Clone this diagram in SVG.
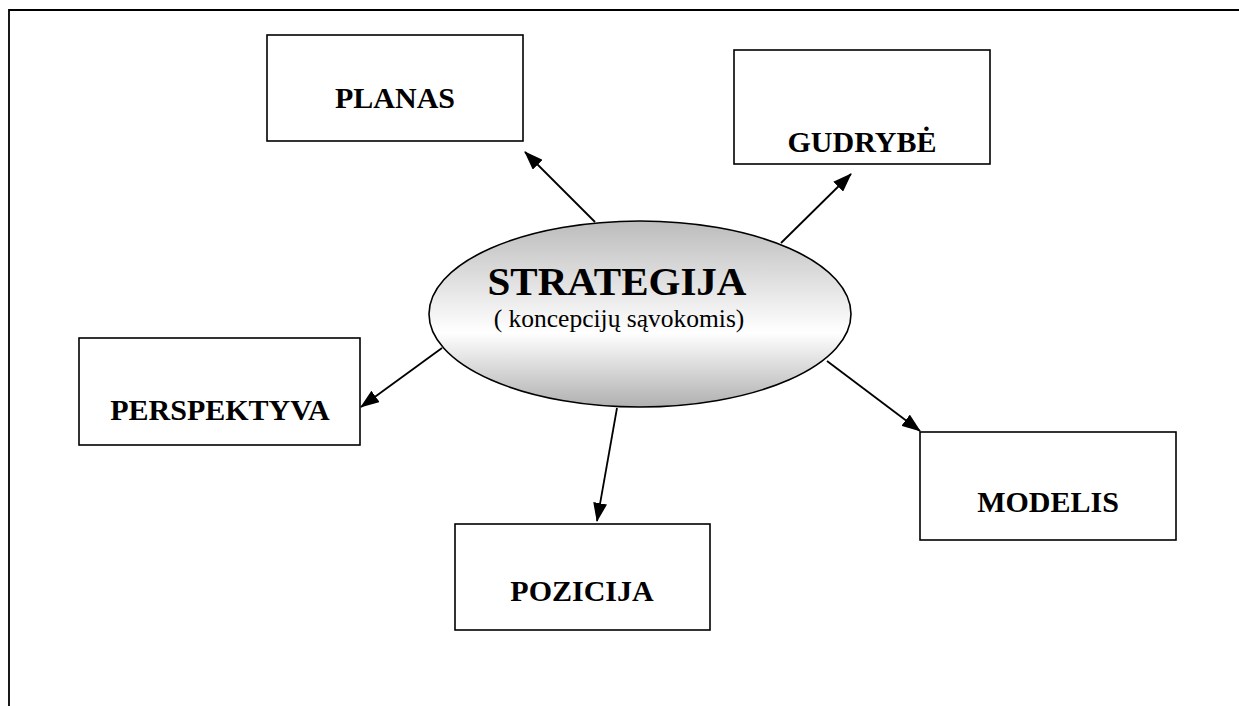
<svg xmlns="http://www.w3.org/2000/svg" width="1239" height="706" viewBox="0 0 1239 706">
<style>
.box{fill:#fff;stroke:#000;stroke-width:1.6}
.lbl{font-family:"Liberation Serif","Times New Roman",serif;font-weight:bold;font-size:30px;text-anchor:middle;fill:#000}
.con{stroke:#000;stroke-width:1.8;fill:none;marker-end:url(#ah)}
</style>
<defs>
<marker id="ah" viewBox="0 0 19 14" refX="18" refY="7" markerWidth="19" markerHeight="14" markerUnits="userSpaceOnUse" orient="auto">
<path d="M0,0 L19,7 L0,14 z" fill="#000"/>
</marker>
<linearGradient id="eg" x1="0" y1="0" x2="0" y2="1">
<stop offset="0" stop-color="#bcbcbc"/>
<stop offset="0.6" stop-color="#ffffff"/>
<stop offset="1" stop-color="#b0b0b0"/>
</linearGradient>
</defs>
<rect width="1239" height="706" fill="#fff"/>
<path d="M9,706 L9,10 L1239,10" fill="none" stroke="#000" stroke-width="1.8"/>
<g id="connectors">
<line class="con" x1="595" y1="222" x2="525" y2="152"/>
<line class="con" x1="781" y1="243" x2="851" y2="174"/>
<line class="con" x1="442" y1="348" x2="361" y2="407"/>
<line class="con" x1="827" y1="361" x2="920" y2="431"/>
<line class="con" x1="617" y1="408" x2="597" y2="521"/>
</g>
<g id="strategija">
<ellipse cx="640" cy="314" rx="211" ry="93" fill="url(#eg)" stroke="#000" stroke-width="1.6"/>
<text x="617" y="295" font-family="'Liberation Serif','Times New Roman',serif" font-weight="bold" font-size="41" text-anchor="middle">STRATEGIJA</text>
<text x="619" y="327" font-family="'Liberation Serif','Times New Roman',serif" font-size="25.5" text-anchor="middle">( koncepcijų sąvokomis)</text>
</g>
<g id="planas">
<rect class="box" x="267" y="35" width="256" height="106"/>
<text class="lbl" x="395" y="108">PLANAS</text>
</g>
<g id="gudrybe">
<rect class="box" x="734" y="50" width="256" height="114"/>
<text class="lbl" x="862" y="152">GUDRYBĖ</text>
</g>
<g id="perspektyva">
<rect class="box" x="79" y="338" width="281" height="107"/>
<text class="lbl" x="220" y="420">PERSPEKTYVA</text>
</g>
<g id="modelis">
<rect class="box" x="920" y="432" width="256" height="108"/>
<text class="lbl" x="1048" y="512">MODELIS</text>
</g>
<g id="pozicija">
<rect class="box" x="455" y="524" width="255" height="106"/>
<text class="lbl" x="582" y="601">POZICIJA</text>
</g>
</svg>
